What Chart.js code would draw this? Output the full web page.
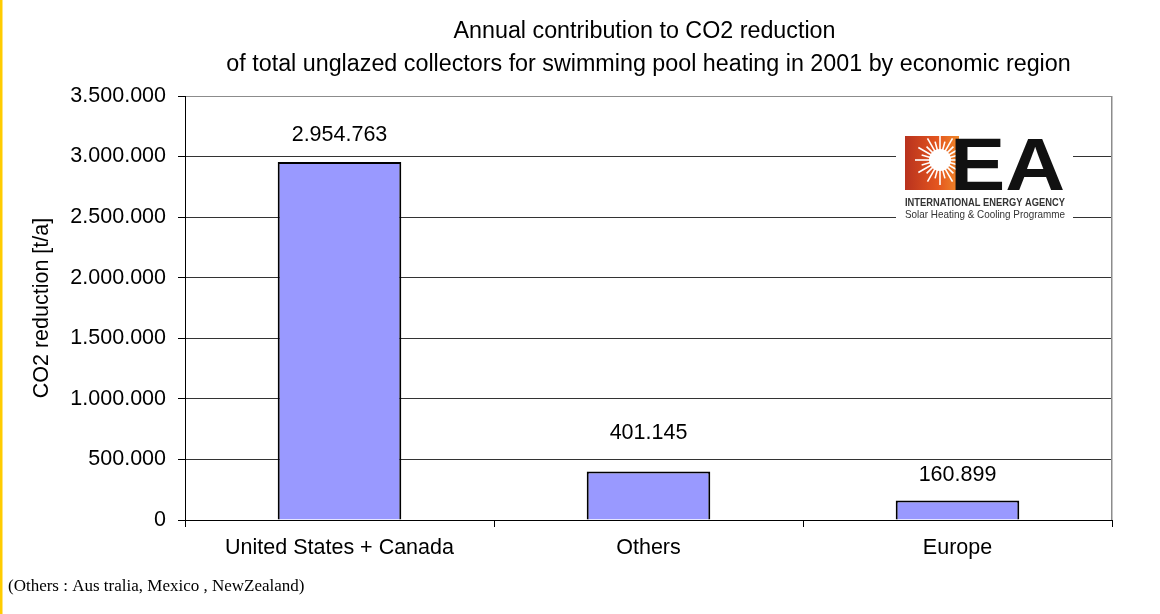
<!DOCTYPE html>
<html>
<head>
<meta charset="utf-8">
<script src="https://cdn.jsdelivr.net/npm/chart.js@4.4.1/dist/chart.umd.min.js"></script>
<style>
  html, body { margin: 0; padding: 0; background: #fff; }
  #wrap { width: 1160px; height: 614px; position: relative; }
</style>
</head>
<body>
<div id="wrap"><canvas id="c" width="1160" height="614"></canvas></div>
<script>
// ---- data ----
const titleLines = ['Annual contribution to CO2 reduction',
  'of total unglazed collectors for swimming pool heating in 2001 by economic region'];
const categories = ['United States + Canada', 'Others', 'Europe'];
const co2Reduction = [2954763, 401145, 160899];
const yTickValues = [0, 500000, 1000000, 1500000, 2000000, 2500000, 3000000, 3500000];
const yAxisTitle = 'CO2 reduction [t/a]';
const footnote = '(Others : Aus tralia, Mexico , NewZealand)';

const FONT = "'Liberation Sans', Arial, Helvetica, sans-serif";
Chart.defaults.font.family = FONT;
Chart.defaults.color = '#000';

function fmt(v) {
  return String(Math.round(v)).replace(/\B(?=(\d{3})+(?!\d))/g, '.');
}

const labelOffsets = [27, 38, 25];

const decor = {
  id: 'decor',
  afterDraw(chart) {
    const ctx = chart.ctx;
    const ca = chart.chartArea;
    ctx.save();
    // right plot border
    ctx.strokeStyle = '#8c8c8c';
    ctx.lineWidth = 1.5;
    ctx.beginPath();
    ctx.moveTo(Math.round(ca.right) - 0.25, ca.top);
    ctx.lineTo(Math.round(ca.right) - 0.25, ca.bottom);
    ctx.stroke();

    // title
    ctx.fillStyle = '#000';
    ctx.font = '23.3px ' + FONT;
    ctx.textAlign = 'center';
    ctx.textBaseline = 'alphabetic';
    const cx = (ca.left + ca.right) / 2;
    ctx.fillText(titleLines[0], cx - 4, 38);
    ctx.fillText(titleLines[1], cx, 71);

    // data labels
    const meta = chart.getDatasetMeta(0);
    ctx.font = '21.5px ' + FONT;
    ctx.textBaseline = 'middle';
    meta.data.forEach((bar, i) => {
      ctx.fillText(fmt(co2Reduction[i]), bar.x, bar.y - labelOffsets[i]);
    });

    // logo
    ctx.fillStyle = '#fff';
    ctx.fillRect(896, 129, 177, 96);
    const g = ctx.createLinearGradient(905, 0, 960, 0);
    g.addColorStop(0, '#b8321e');
    g.addColorStop(0.6, '#e4561f');
    g.addColorStop(1, '#f08a2a');
    ctx.fillStyle = g;
    ctx.fillRect(905, 136, 54, 54);
    // sunburst
    const sx = 940, sy = 160;
    ctx.fillStyle = '#fff';
    ctx.beginPath();
    ctx.arc(sx, sy, 11, 0, Math.PI * 2);
    ctx.fill();
    ctx.strokeStyle = '#fff';
    ctx.lineWidth = 1.6;
    for (let k = 0; k < 24; k++) {
      const a = k * Math.PI * 2 / 24;
      const r2 = (k % 2 === 0) ? 25 : 19;
      ctx.beginPath();
      ctx.moveTo(sx + Math.cos(a) * 10, sy + Math.sin(a) * 10);
      ctx.lineTo(sx + Math.cos(a) * r2, sy + Math.sin(a) * r2);
      ctx.stroke();
    }
    ctx.fillStyle = '#fff';
    ctx.fillRect(896, 129, 9, 96);
    ctx.fillRect(896, 129, 66, 7);
    ctx.fillRect(896, 190, 66, 8);
    // EA
    ctx.save();
    ctx.fillStyle = '#111';
    ctx.font = 'bold 74px ' + FONT;
    ctx.textAlign = 'left';
    ctx.textBaseline = 'alphabetic';
    ctx.translate(950, 190);
    ctx.scale(1.12, 1);
    ctx.fillText('EA', 0, 0);
    ctx.restore();
    ctx.fillStyle = '#333';
    ctx.textAlign = 'left';
    ctx.textBaseline = 'middle';
    ctx.font = 'bold 10px ' + FONT;
    ctx.fillText('INTERNATIONAL ENERGY AGENCY', 905, 203, 160);
    ctx.font = '10.5px ' + FONT;
    ctx.fillText('Solar Heating & Cooling Programme', 905, 215, 160);

    // footnote
    ctx.fillStyle = '#000';
    ctx.font = "17px 'Liberation Serif', 'Times New Roman', serif";
    ctx.textAlign = 'left';
    ctx.textBaseline = 'alphabetic';
    ctx.fillText(footnote, 8, 591);

    // yellow stripe
    ctx.fillStyle = '#ffcc00';
    ctx.fillRect(0, 0, 2.5, chart.height);
    ctx.restore();
  }
};

new Chart(document.getElementById('c'), {
  type: 'bar',
  data: {
    labels: categories,
    datasets: [{
      data: co2Reduction,
      backgroundColor: '#9999ff',
      borderColor: '#000',
      borderWidth: 2,
      barPercentage: 0.4,
      categoryPercentage: 1
    }]
  },
  options: {
    responsive: false,
    animation: false,
    layout: { padding: { left: 20, right: 48, top: 96, bottom: 0 } },
    plugins: {
      legend: { display: false },
      title: { display: false },
      tooltip: { enabled: false }
    },
    scales: {
      x: {
        offset: true,
        grid: { offset: true, drawOnChartArea: false, drawTicks: true, tickLength: 7, color: '#000', lineWidth: 1 },
        border: { color: '#000', width: 1 },
        ticks: { color: '#000', font: { size: 21.5 }, padding: 8, maxRotation: 0, autoSkip: false },
        afterFit(s) { s.height = 94; }
      },
      y: {
        min: 0,
        max: 3500000,
        afterBuildTicks(s) { s.ticks = yTickValues.map(v => ({ value: v })); },
        ticks: { color: '#000', font: { size: 21.5 }, padding: 12, callback: v => fmt(v) },
        grid: {
          color: c => (c.tick && c.tick.value === 3500000) ? '#8c8c8c' : '#333',
          tickColor: '#000', tickLength: 7, lineWidth: 1
        },
        border: { color: '#000', width: 1 },
        title: { display: true, text: yAxisTitle, color: '#000', font: { size: 21.5 }, padding: { top: 9, bottom: 0 } },
        afterFit(s) { s.width = 165; }
      }
    }
  },
  plugins: [decor]
});
</script>
</body>
</html>
